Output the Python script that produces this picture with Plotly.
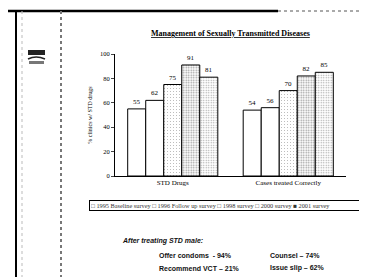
import plotly.graph_objects as go

categories = ["STD Drugs", "Cases treated Correctly"]
series_names = ["1995 Baseline survey", "1996 Follow up survey", "1998 survey", "2000 survey", "2001 survey"]
values_1995 = [55, 54]
values_1996 = [62, 56]
values_1998 = [75, 70]
values_2000 = [91, 82]
values_2001 = [81, 85]
y_ticks = [0, 20, 40, 60, 80, 100]
series_values = [values_1995, values_1996, values_1998, values_2000, values_2001]

patterns = [
    dict(shape="", fgcolor="black"),
    dict(shape="", fgcolor="black"),
    dict(shape=".", fgcolor="#555", size=3, solidity=0.1),
    dict(shape=".", fgcolor="#333", size=2.5, solidity=0.35),
    dict(shape=".", fgcolor="#444", size=2.5, solidity=0.25),
]

serif = "Liberation Serif"
sans = "Liberation Sans"

fig = go.Figure()
for name, vals, pat in zip(series_names, series_values, patterns):
    fig.add_trace(go.Bar(
        name=name, x=categories, y=vals,
        text=[str(v) for v in vals], textposition="outside",
        textfont=dict(family=serif, size=7, color="black"),
        cliponaxis=False,
        marker=dict(color="white", line=dict(color="black", width=1), pattern=pat),
    ))

fig.update_layout(
    width=367, height=277,
    margin=dict(l=107, r=29, t=46, b=109),
    paper_bgcolor="white", plot_bgcolor="white",
    barmode="group", bargap=0.22, bargroupgap=0,
    showlegend=False,
    font=dict(family=serif, size=7, color="black"),
    xaxis=dict(showline=True, linecolor="black", linewidth=1, ticks="",
               tickfont=dict(family=serif, size=7), range=[-0.5, 1.5]),
    yaxis=dict(range=[0, 100], tickvals=y_ticks, showline=True, linecolor="black",
               linewidth=1, ticks="outside", ticklen=3, showgrid=False, zeroline=False,
               tickfont=dict(family=serif, size=6.5),
               title=dict(text="% clinics w/ STD drugs", font=dict(family=serif, size=6), standoff=6)),
)

# Title
fig.add_annotation(xref="paper", yref="paper", x=0.5, y=1.0, yshift=21, showarrow=False,
                   xanchor="center", yanchor="middle",
                   text="<b><u>Management of Sexually Transmitted Diseases</u></b>",
                   font=dict(family=serif, size=8, color="black"))

# Legend (built from series names)
legend_text = " ".join(("■ " if i == len(series_names) - 1 else "□ ") + n for i, n in enumerate(series_names))
fig.add_annotation(xref="paper", yref="paper", x=(81 - 107) / 231, y=(168 - 197) / 122,
                   xanchor="left", yanchor="middle", showarrow=False,
                   text=legend_text, font=dict(family=serif, size=6.3, color="#333"),
                   bordercolor="black", borderwidth=1, borderpad=1, width=272, align="left")

# Bottom text block
def paper_xy(px, py):
    return (px - 107) / 231, (168 - py) / 122

for txt, px, py in [
    ("<b><i>After treating STD male:</i></b>", 112, 233),
    ("<b>Offer condoms  - 94%</b>", 149, 247),
    ("<b>Counsel – 74%</b>", 260, 247),
    ("<b>Recommend VCT – 21%</b>", 149, 260),
    ("<b>Issue slip – 62%</b>", 260, 260),
]:
    x, y = paper_xy(px, py)
    fig.add_annotation(xref="paper", yref="paper", x=x, y=y, xanchor="left", yanchor="middle",
                       showarrow=False, text=txt, font=dict(family=sans, size=7, color="#111"))

# Decorative slide frame elements
fig.add_shape(type="line", xref="paper", yref="paper", x0=-107/231, x1=(270 - 107) / 231,
              y0=(168 - 3) / 122, y1=(168 - 3) / 122, line=dict(color="black", width=2.5))
fig.add_shape(type="line", xref="paper", yref="paper", x0=(270 - 107) / 231, x1=(367 - 107) / 231,
              y0=(168 - 3) / 122, y1=(168 - 3) / 122, line=dict(color="#555", width=1, dash="dot"))
fig.add_shape(type="line", xref="paper", yref="paper", x0=(8 - 107) / 231, x1=(8 - 107) / 231,
              y0=(168 - 3) / 122, y1=(168 - 277) / 122, line=dict(color="black", width=2))
fig.add_shape(type="line", xref="paper", yref="paper", x0=(53 - 107) / 231, x1=(53 - 107) / 231,
              y0=(168 - 3) / 122, y1=(168 - 277) / 122, line=dict(color="#777", width=2, dash="dot"))
fig.add_shape(type="line", xref="paper", yref="paper", x0=(14 - 107) / 231, x1=(14 - 107) / 231,
              y0=(168 - 3) / 122, y1=(168 - 277) / 122, line=dict(color="#bbb", width=1, dash="dot"))
# Logo
fig.add_shape(type="rect", xref="paper", yref="paper", x0=(20 - 107) / 231, x1=(37 - 107) / 231,
              y0=(168 - 47) / 122, y1=(168 - 42) / 122, fillcolor="#222", line=dict(width=0))
fig.add_shape(type="path", xref="paper", yref="paper",
              path="M %f %f Q %f %f %f %f" % ((20 - 107) / 231, (168 - 51) / 122,
                                               (28 - 107) / 231, (168 - 47) / 122,
                                               (37 - 107) / 231, (168 - 51) / 122),
              line=dict(color="#222", width=1.5))
fig.add_shape(type="rect", xref="paper", yref="paper", x0=(21 - 107) / 231, x1=(36 - 107) / 231,
              y0=(168 - 56) / 122, y1=(168 - 53) / 122, fillcolor="#777", line=dict(width=0))

fig.write_html("out.html")
